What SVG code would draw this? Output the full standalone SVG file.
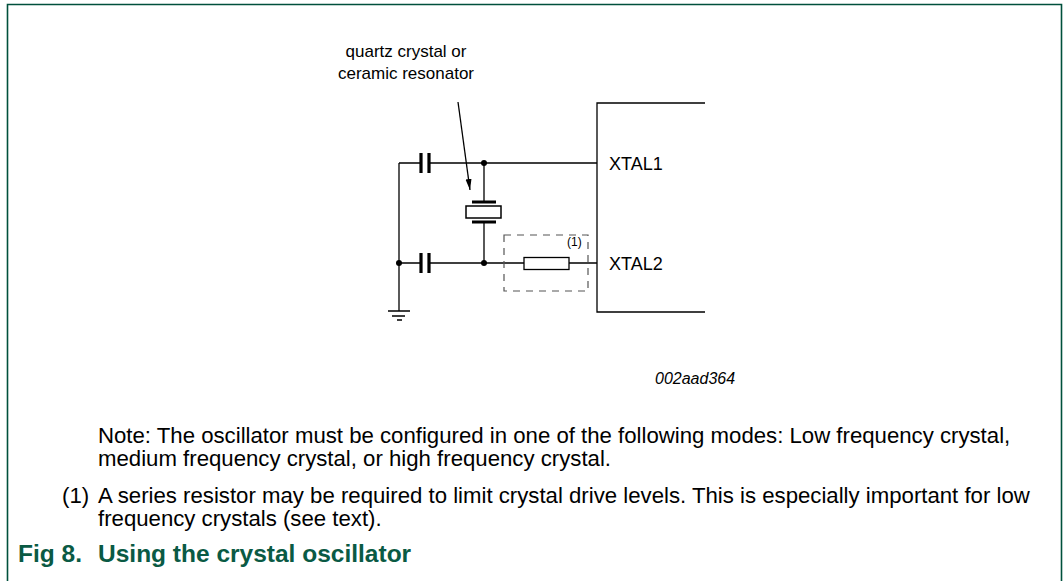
<svg xmlns="http://www.w3.org/2000/svg" width="1063" height="581" viewBox="0 0 1063 581">
<defs>
<style>
.w{stroke:#000;stroke-width:1.3;fill:none}
.p{stroke:#000;stroke-width:3.2;fill:none}
.t{font-family:"Liberation Sans",Arial,sans-serif;fill:#000}
.n{font-family:"Liberation Sans",Arial,sans-serif;fill:#000;font-size:22.2px}
.c{font-family:"Liberation Sans",Arial,sans-serif;font-weight:bold;font-size:24.5px;fill:#0a5a44}
.dot{fill:#000}
</style>
<marker id="ah" markerWidth="12" markerHeight="8" refX="11" refY="4" orient="auto" markerUnits="userSpaceOnUse">
<path d="M0,1 L11,4 L0,7 z" fill="#000"/>
</marker>
</defs>
<rect x="0" y="0" width="1063" height="581" fill="#fff"/>
<path d="M7.5,581 V4.5 H1061.5 V581" fill="none" stroke="#00503c" stroke-width="1.6"/>

<g id="label-crystal">
<text class="t" x="406" y="57" font-size="17" text-anchor="middle">quartz crystal or</text>
<text class="t" x="406" y="79" font-size="17" text-anchor="middle">ceramic resonator</text>
</g>

<g id="connectors">
<line class="w" x1="458" y1="102" x2="470" y2="190" marker-end="url(#ah)"/>
<path class="w" d="M399,163 H420 M430,163 H597"/>
<path class="w" d="M399,263 H420 M430,263 H524 M569,263 H597"/>
<path class="w" d="M399,163 V311"/>
<path class="w" d="M484,163 V202 M484,222 V263"/>
</g>

<g id="cap1">
<path class="p" d="M421,153 V173 M429,153 V173"/>
</g>
<g id="cap2">
<path class="p" d="M421,253 V273 M429,253 V273"/>
</g>

<g id="crystal">
<path class="p" d="M472,202 H496 M472,222 H496"/>
<rect x="466" y="206" width="35" height="12" fill="#fff" stroke="#000" stroke-width="1.5"/>
</g>

<g id="junctions">
<circle class="dot" cx="484" cy="163" r="3"/>
<circle class="dot" cx="484" cy="263" r="3"/>
<circle class="dot" cx="399" cy="263" r="3"/>
</g>

<g id="ground">
<path class="w" d="M388,311 H410 M392,316 H405 M397,320 H402"/>
</g>

<g id="resistor-option">
<rect x="504" y="235" width="84" height="56" fill="none" stroke="#555" stroke-width="1.2" stroke-dasharray="7,6"/>
<rect x="524" y="257.5" width="45" height="12" fill="#fff" stroke="#000" stroke-width="1.3"/>
<text class="t" x="567" y="246" font-size="12">(1)</text>
</g>

<g id="ic">
<path class="w" d="M705,103 H597 V312 H705"/>
<text class="t" x="609" y="169.5" font-size="18">XTAL1</text>
<text class="t" x="609" y="269.5" font-size="18">XTAL2</text>
</g>

<text class="t" x="655" y="384" font-size="16" font-style="italic">002aad364</text>

<g id="notes">
<text class="n" x="98" y="443">Note: The oscillator must be configured in one of the following modes: Low frequency crystal,</text>
<text class="n" x="98" y="466">medium frequency crystal, or high frequency crystal.</text>
<text class="n" x="62" y="503">(1)</text>
<text class="n" x="98" y="503">A series resistor may be required to limit crystal drive levels. This is especially important for low</text>
<text class="n" x="98" y="526">frequency crystals (see text).</text>
</g>

<g id="caption">
<text class="c" x="18" y="562">Fig 8.</text>
<text class="c" x="98" y="562">Using the crystal oscillator</text>
</g>
</svg>
